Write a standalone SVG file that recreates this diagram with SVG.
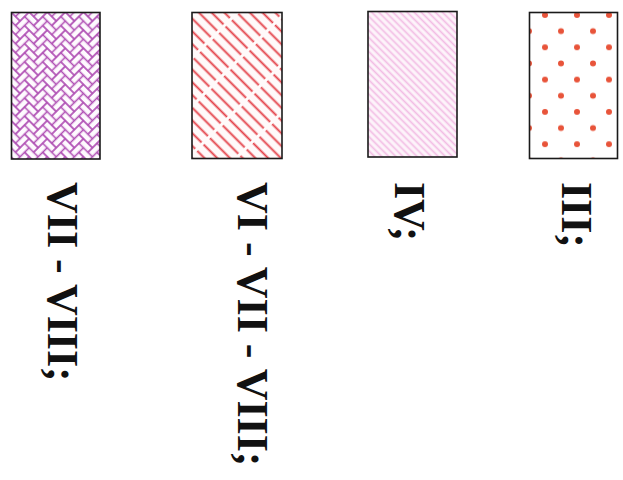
<svg xmlns="http://www.w3.org/2000/svg" xmlns:xlink="http://www.w3.org/1999/xlink" width="623" height="480" viewBox="0 0 623 480">
<style>
.box{stroke:#1a1a1a;stroke-width:1.6}
.lbl{font-family:"Liberation Serif","Times New Roman",serif;font-weight:bold;font-size:44px;fill:#111}
.br{fill:none;stroke:#b050b4;stroke-width:0.2}
</style>
<defs>
<g id="hb">
<rect class="br" x="0" y="0" width="2" height="1"/>
<rect class="br" x="1" y="1" width="2" height="1"/>
<rect class="br" x="2" y="2" width="2" height="1"/>
<rect class="br" x="3" y="3" width="2" height="1"/>
<rect class="br" x="2" y="-1" width="1" height="2"/>
<rect class="br" x="3" y="0" width="1" height="2"/>
<rect class="br" x="4" y="1" width="1" height="2"/>
<rect class="br" x="5" y="2" width="1" height="2"/>
</g>
<pattern id="p1" patternUnits="userSpaceOnUse" width="4" height="4" patternTransform="translate(11,12) rotate(45) scale(6.4)">
<rect x="0" y="0" width="4" height="4" fill="#fefafe"/>
<use xlink:href="#hb" x="-4" y="-4"/><use xlink:href="#hb" x="0" y="-4"/><use xlink:href="#hb" x="4" y="-4"/>
<use xlink:href="#hb" x="-4" y="0"/><use xlink:href="#hb" x="0" y="0"/><use xlink:href="#hb" x="4" y="0"/>
<use xlink:href="#hb" x="-4" y="4"/><use xlink:href="#hb" x="0" y="4"/><use xlink:href="#hb" x="4" y="4"/>
<use xlink:href="#hb" x="-8" y="0"/><use xlink:href="#hb" x="-8" y="4"/><use xlink:href="#hb" x="-8" y="-4"/>
</pattern>
<pattern id="p2" patternUnits="userSpaceOnUse" width="9" height="34" patternTransform="translate(192,12) rotate(-45)">
<rect x="0" y="0" width="9" height="34" fill="#fffafa"/>
<line x1="4.5" y1="0" x2="4.5" y2="31" stroke="#e4424a" stroke-width="1.9"/>
</pattern>
<pattern id="p3" patternUnits="userSpaceOnUse" width="5" height="10" patternTransform="translate(368,12) rotate(-45)">
<rect x="0" y="0" width="5" height="10" fill="#fdf4fa"/>
<line x1="2.5" y1="0" x2="2.5" y2="10" stroke="#f2bce4" stroke-width="1.7"/>
</pattern>
<pattern id="p4" patternUnits="userSpaceOnUse" x="545" y="15" width="32" height="32.3">
<rect x="0" y="0" width="32" height="32.3" fill="#ffffff"/>
<circle cx="0" cy="0" r="3" fill="#e8543a"/>
<circle cx="32" cy="0" r="3" fill="#e8543a"/>
<circle cx="0" cy="32.3" r="3" fill="#e8543a"/>
<circle cx="32" cy="32.3" r="3" fill="#e8543a"/>
<circle cx="16" cy="16.15" r="3" fill="#e8543a"/>
</pattern>
</defs>
<rect width="623" height="480" fill="#ffffff"/>
<g id="node1">
<rect class="box" x="11.5" y="12.5" width="88.5" height="146.5" fill="url(#p1)"/>
<text class="lbl" transform="translate(48,182) rotate(90)">VII - VIII;</text>
</g>
<g id="node2">
<rect class="box" x="192" y="12.5" width="90" height="146" fill="url(#p2)"/>
<text class="lbl" transform="translate(238,182) rotate(90)">VI - VII - VIII;</text>
</g>
<g id="node3">
<rect class="box" x="368" y="11.5" width="89" height="145.5" fill="url(#p3)"/>
<text class="lbl" transform="translate(395,182) rotate(90)">IV;</text>
</g>
<g id="node4">
<rect class="box" x="529.5" y="12.5" width="88" height="146" fill="url(#p4)"/>
<text class="lbl" transform="translate(562,182) rotate(90)">III;</text>
</g>
<g id="connectors"/>
</svg>
